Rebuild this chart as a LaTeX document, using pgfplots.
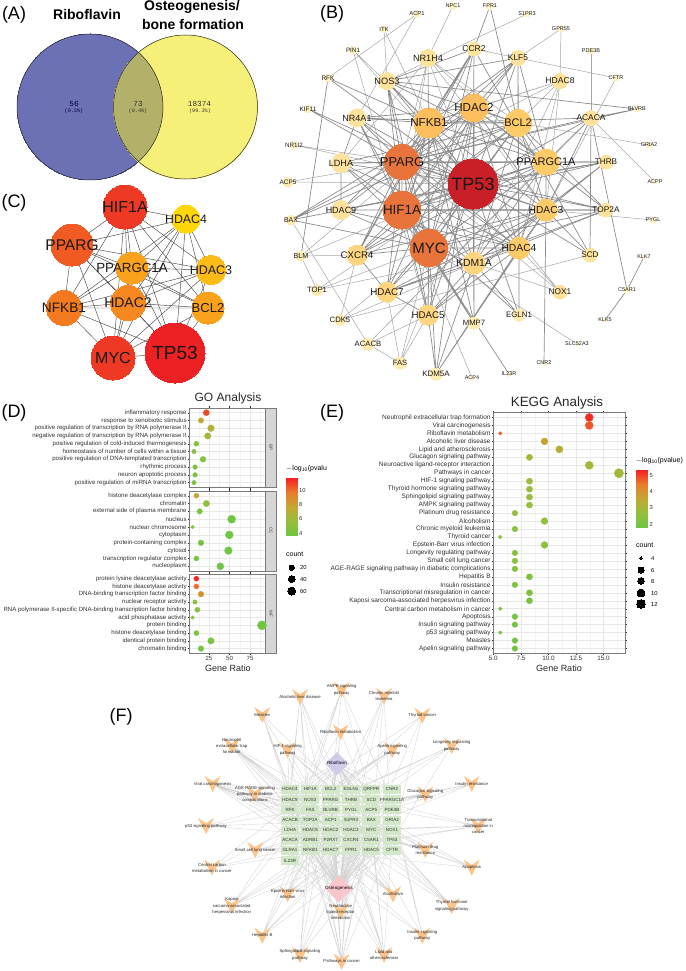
\documentclass[border=0pt]{standalone}
\usepackage{pgfplots}
\pgfplotsset{compat=1.18}
\usepackage{fontspec}
\setmainfont{Liberation Sans}
\newfontfamily\vennserif{Liberation Mono}
\newcommand\fs[1]{\fontsize{#1}{#1}\selectfont}
\definecolor{bA}{HTML}{C91F26}\definecolor{bB}{HTML}{E8743B}\definecolor{bC}{HTML}{FDBE5D}
\definecolor{bD}{HTML}{FFCB69}\definecolor{bE}{HTML}{FFD57F}\definecolor{bF}{HTML}{FFE29B}
\definecolor{bG}{HTML}{FFEBB0}\definecolor{bH}{HTML}{FFF3C6}
\definecolor{cA}{HTML}{ED2024}\definecolor{cB}{HTML}{EE3A24}\definecolor{cC}{HTML}{F15A22}
\definecolor{cD}{HTML}{F47A20}\definecolor{cE}{HTML}{F7871F}\definecolor{cF}{HTML}{FAA21B}
\definecolor{cG}{HTML}{FDBB16}\definecolor{cH}{HTML}{FFD60A}
\definecolor{vee}{HTML}{FCC48B}\definecolor{genebox}{HTML}{D3E8C8}
\definecolor{tick}{HTML}{303030}\definecolor{frame}{HTML}{7A7A7A}
\definecolor{vblue}{RGB}{108,112,181}\definecolor{vyel}{RGB}{247,240,120}\definecolor{volive}{RGB}{179,176,106}
\definecolor{dribo}{RGB}{208,205,235}\definecolor{dost}{RGB}{249,198,203}
\pgfdeclareplotmark{veeshape}{\pgfpathmoveto{\pgfqpoint{-1\pgfplotmarksize}{1\pgfplotmarksize}}
 \pgfpathlineto{\pgfqpoint{0pt}{0.35\pgfplotmarksize}}
 \pgfpathlineto{\pgfqpoint{1\pgfplotmarksize}{1\pgfplotmarksize}}
 \pgfpathlineto{\pgfqpoint{0pt}{-1\pgfplotmarksize}}\pgfpathclose\pgfusepathqfill}
\pgfplotsset{
 px/.style={at={(0,0)},anchor=south west,scale only axis,width=685pt,height=971pt,
   xmin=0,xmax=685,ymin=0,ymax=971,y dir=reverse,hide axis,clip=false},
 colormap={gr}{rgb255=(108,198,68) rgb255=(150,190,60) rgb255=(195,168,50) rgb255=(232,125,45) rgb255=(245,30,35)},
 dots/.style={scatter,only marks,mark=*,scatter src=explicit,
   scatter/use mapped color={draw=mapped color,fill=mapped color},
   visualization depends on={\thisrow{r}\as\rr},
   scatter/@pre marker code/.append style={/tikz/mark size=\rr}},
 gopanel/.style={scale only axis,width=76.4pt,anchor=north west,clip=false,
   xmin=1,xmax=94.1,ymin=0.4,ymax=10.6,y dir=reverse,
   xtick={25,50,75},minor xtick={12.5,37.5,62.5,87.5},ytick={1,...,10},
   grid=both,major grid style={draw=black!9,line width=.4pt},minor grid style={draw=black!5,line width=.25pt},
   axis line style={draw=frame,line width=.9pt},tick style={draw=tick,line width=.3pt},
   tick align=outside,major tick length=1.5pt,minor tick length=0pt,
   yticklabel style={font=\fs{6.1},text=tick,inner sep=1pt},
   xticklabel style={font=\fs{6},text=tick,inner sep=1.5pt},
   colormap name=gr,point meta min=3.6,point meta max=11.7,
   /pgf/number format/assume math mode=true},
 cbar/.style={scale only axis,anchor=south west,xmin=0,xmax=1,xtick=\empty,
   axis line style={draw=none},yticklabel pos=right,tick style={draw=none},
   yticklabel style={font=\fs{5.8},text=tick,inner sep=1pt,xshift=1pt},
   colormap name=gr,/pgf/number format/assume math mode=true},
 edgeA/.style={draw=black!45,line width=.7pt,line join=round,no markers,forget plot},
 edgeB/.style={draw=black!35,line width=.5pt,line join=round,no markers,forget plot},
 edgeC/.style={draw=black!72,line width=.45pt,line join=round,no markers,forget plot},
 edgeF/.style={draw=black!17,line width=.35pt,line join=round,no markers,forget plot},
 disc/.style 2 args={only marks,mark=*,mark size=#1pt,mark options={draw=#2,fill=#2,line width=0pt},forget plot},
}
% ---------- helpers: node positions come from the lists below
\newcommand\defpos[3]{\expandafter\gdef\csname P#1\endcsname{(#2,#3)}%
  \expandafter\gdef\csname X#1\endcsname{#2}\expandafter\gdef\csname Y#1\endcsname{#3}}
\newcommand\Hub[3]{\gdef\buf{}\foreach\q in {#3}{\xdef\buf{\buf\csname P\q\endcsname\csname P#2\endcsname}}%
  \edef\tmp{\noexpand\addplot[#1] coordinates {\csname P#2\endcsname\buf};}\tmp}
\newcommand\netmark[4]{\addplot[disc={#3}{#4}] coordinates {\csname P#1#2\endcsname};}
\newcommand\netlabel[3]{\node[font=\fs{#3},text=black!90,inner sep=0pt] at (axis cs:\csname X#1#2\endcsname,\csname Y#1#2\endcsname) {#2};}
% ---------- network B: name x y radius colour fontsize
\def\Bnodes{%
\do{TP53}{473}{184}{25}{bA}{18}\do{PPARG}{402}{162}{17.5}{bB}{12.9}\do{HIF1A}{402}{210}{19}{bB}{13.4}
\do{MYC}{429}{248}{18.5}{bB}{15}\do{HDAC2}{474}{108}{14}{bC}{11.6}\do{NFKB1}{429}{123}{15}{bC}{11.6}
\do{BCL2}{518}{123}{13.5}{bD}{11}\do{PPARGC1A}{546}{162}{13}{bD}{11}\do{HDAC3}{546}{210}{11}{bD}{10.2}
\do{HDAC4}{519}{248}{11}{bD}{10.3}\do{KDM1A}{474}{263}{11}{bE}{10.4}\do{HDAC5}{428}{315}{10}{bE}{9.7}
\do{HDAC7}{387}{292}{10}{bE}{9.8}\do{CXCR4}{357}{255}{10}{bE}{9.6}\do{HDAC9}{341}{210}{9.5}{bF}{9}
\do{LDHA}{341}{163}{9.5}{bF}{9.1}\do{NR4A1}{357}{118}{9}{bF}{9}\do{NOS3}{387}{81}{8.5}{bF}{9.2}
\do{NR1H4}{428}{58}{8.5}{bF}{9.1}\do{CCR2}{474}{49}{7}{bF}{8.5}\do{KLF5}{518}{58}{7.5}{bF}{8.4}
\do{HDAC8}{560}{81}{7.5}{bF}{8.6}\do{ACACA}{591}{118}{7.5}{bF}{8.4}\do{THRB}{606}{162}{7}{bF}{8.2}
\do{TOP2A}{606}{210}{7}{bF}{8.3}\do{SCD}{590}{255}{7}{bF}{8.2}\do{NOX1}{560}{292}{7}{bF}{8.3}
\do{EGLN1}{519}{315}{6}{bG}{7.9}\do{MMP7}{474}{323}{6}{bG}{7.7}\do{KDM5A}{436}{374}{6}{bG}{7.9}
\do{FAS}{400}{363}{6}{bG}{7.6}\do{ACACB}{368}{344}{6}{bG}{7.7}\do{CDK5}{340}{320}{5.5}{bG}{7.7}
\do{TOP1}{317}{290}{5.5}{bG}{7.7}\do{BLM}{301}{256}{5}{bG}{7.2}\do{BAX}{291}{220}{5}{bG}{7}
\do{ACP5}{288}{182}{5}{bG}{6.5}\do{NR1I2}{294}{145}{4}{bH}{6.3}\do{KIF11}{308}{109}{4}{bH}{6.5}
\do{RFK}{328}{78}{4}{bH}{6.5}\do{PIN1}{353}{50}{4}{bH}{6.3}\do{ITK}{384}{29}{3.5}{bH}{6}
\do{ACP1}{417}{14}{3.5}{bH}{5.8}\do{NPC1}{453}{6}{3.5}{bH}{5.5}\do{FPR1}{490}{6}{3.5}{bH}{5.5}
\do{S1PR3}{527}{14}{3}{bH}{5.5}\do{GPR55}{561}{29}{3}{bH}{5.5}\do{PDE3B}{591}{51}{3}{bH}{5.5}
\do{CFTR}{616}{78}{3}{bH}{5.5}\do{BLVRB}{637}{109}{3}{bH}{5.5}\do{GRIA2}{649}{145}{3}{bH}{5.5}
\do{ACPP}{655}{182}{2}{bH}{5.5}\do{PYGL}{653}{220}{3}{bH}{5.5}\do{KLK7}{644}{257}{2}{bH}{5.5}
\do{C5AR1}{627}{290}{3}{bH}{5.5}\do{KLK5}{605}{320}{2}{bH}{5.5}\do{SLC52A3}{577}{344}{2}{bH}{5.5}
\do{CNR2}{544}{363}{2}{bH}{5.5}\do{IL23R}{509}{374}{2}{bH}{5.5}\do{ACP4}{472}{378}{2}{bH}{5.5}}
% ---------- network C
\def\Cnodes{%
\do{HIF1A}{125}{207}{22}{cB}{16}\do{HDAC4}{186}{219}{14}{cH}{12.3}\do{PPARG}{72}{245}{21}{cC}{15.5}
\do{PPARGC1A}{132}{268}{16}{cF}{13.3}\do{HDAC3}{211}{270}{14.5}{cG}{12.5}\do{NFKB1}{64}{308}{17.5}{cD}{13.7}
\do{HDAC2}{128}{303}{17.5}{cE}{14}\do{BCL2}{208}{308}{16}{cF}{13}\do{MYC}{113}{358}{22}{cB}{16}
\do{TP53}{175}{353}{30}{cA}{19}}
% ---------- network F genes
\def\Fgenes{%
\do{HDAC4}{290}{789.3}\do{HIF1A}{310.3}{789.3}\do{BCL2}{330.7}{789.3}\do{EGLN1}{351}{789.3}\do{QRFPR}{371.3}{789.3}\do{CNR2}{392}{789.3}
\do{HDAC9}{290}{799.7}\do{NOS3}{310.3}{799.7}\do{PPARG}{330.7}{799.7}\do{THRB}{351}{799.7}\do{SCD}{371.3}{799.7}\do{PPARGC1A}{392}{799.7}
\do{RFK}{290}{809.7}\do{FAS}{310.3}{809.7}\do{BLVRB}{330.7}{809.7}\do{PYGL}{351}{809.7}\do{ACP5}{371.3}{809.7}\do{PDE3B}{392}{809.7}
\do{ACACB}{290}{820}\do{TOP2A}{310.3}{820}\do{ACP1}{330.7}{820}\do{S1PR3}{351}{820}\do{BAX}{371.3}{820}\do{GRIA2}{392}{820}
\do{LDHA}{290}{830}\do{HDAC8}{310.3}{830}\do{HDAC2}{330.7}{830}\do{HDAC3}{351}{830}\do{MYC}{371.3}{830}\do{NOX1}{392}{830}
\do{ACACA}{290}{840.3}\do{ADRB1}{310.3}{840.3}\do{P2RX7}{330.7}{840.3}\do{CXCR4}{351}{840.3}\do{C5AR1}{371.3}{840.3}\do{TP53}{392}{840.3}
\do{GLRA1}{290}{850.3}\do{NFKB1}{310.3}{850.3}\do{HDAC7}{330.7}{850.3}\do{FPR1}{351}{850.3}\do{HDAC5}{371.3}{850.3}\do{CFTR}{392}{850.3}
\do{IL23R}{290}{860.7}}
\newcommand\allF{HDAC4,HIF1A,BCL2,EGLN1,QRFPR,CNR2,HDAC9,NOS3,PPARG,THRB,SCD,PPARGC1A,RFK,FAS,BLVRB,PYGL,ACP5,PDE3B,ACACB,TOP2A,ACP1,S1PR3,BAX,GRIA2,LDHA,HDAC8,HDAC2,HDAC3,MYC,NOX1,ACACA,ADRB1,P2RX7,CXCR4,C5AR1,TP53,GLRA1,NFKB1,HDAC7,FPR1,HDAC5,CFTR,IL23R}
% ---------- pathways F: id x y label genes
\def\Ftargets{%
\do{a}{262.3}{715}{Measles}{HDAC4,HDAC9,HDAC2,TP53,NFKB1}
\do{b}{300}{697}{Alcoholic liver disease}{HDAC4,HDAC9,HDAC2,HDAC3,FAS,NFKB1,HDAC5}
\do{c}{341.7}{690}{AMPK signaling\\pathway}{HIF1A,PPARG,PPARGC1A,SCD,ACACA,ACACB}
\do{d}{384}{696}{Chronic myeloid\\leukemia}{HDAC2,HDAC3,MYC,TP53,NFKB1}
\do{e}{422.3}{715.7}{Thyroid cancer}{TP53,PPARG,MYC,HIF1A}
\do{f}{231.7}{746}{Neutrophil\\extracellular trap\\formation}{HDAC4,HDAC9,HDAC2,HDAC3,HDAC5,HDAC7,HDAC8,HIF1A,NFKB1,CXCR4}
\do{g}{287.7}{750}{HIF-1 signaling\\pathway}{HIF1A,EGLN1,BCL2,TP53,NFKB1,LDHA}
\do{h}{340.7}{732.3}{Riboflavin metabolism}{RFK,ACP1,ACP5,BLVRB}
\do{i}{392.3}{750}{Apelin signaling\\pathway}{NOS3,ACACB,ACACA,MYC,BCL2}
\do{j}{451.7}{746}{Longevity regulating\\pathway}{ACACA,ACACB,PPARG,TP53,NFKB1}
\do{k}{212.7}{784}{Viral carcinogenesis}{HDAC4,HDAC9,HDAC2,HDAC3,HDAC5,HDAC7,HDAC8,MYC,TP53,NFKB1}
\do{l}{255}{794.3}{AGE-RAGE signaling\\pathway in diabetic\\complications}{BAX,BCL2,FAS,NFKB1,NOX1}
\do{m}{425.3}{794.3}{Glucagon signaling\\pathway}{ACACA,ACACB,LDHA,PPARGC1A,PYGL}
\do{n}{471.7}{784}{Insulin resistance}{ACACA,ACACB,NFKB1,PPARGC1A,PYGL}
\do{o}{206}{826}{p53 signaling pathway}{BAX,BCL2,TP53,FAS}
\do{p}{478.3}{826}{Transcriptional\\misregulation in\\cancer}{HDAC2,MYC,TP53,BCL2,NFKB1,PPARG}
\do{q}{255.3}{850}{Small cell lung cancer}{BCL2,MYC,TP53,NFKB1,BAX}
\do{r}{425.3}{850}{Platinum drug\\resistance}{BAX,BCL2,TP53,TOP2A,FAS}
\do{s}{212}{867.7}{Central carbon\\metabolism in cancer}{HIF1A,MYC,TP53,LDHA}
\do{t}{471.7}{867.7}{Apoptosis}{BAX,BCL2,FAS,TP53,NFKB1}
\do{u}{287.7}{894.3}{Epstein-Barr virus\\infection}{HDAC2,BAX,BCL2,FAS,MYC,TP53,NFKB1}
\do{v}{393}{894.3}{Alcoholism}{HDAC2,HDAC3,HDAC4,HDAC5,HDAC7,HDAC8,HDAC9}
\do{w}{231.7}{906}{Kaposi\\sarcoma-associated\\herpesvirus infection}{BAX,FAS,MYC,TP53,NFKB1,HIF1A}
\do{x}{340.7}{911.7}{Neuroactive\\ligand-receptor\\interaction}{S1PR3,ADRB1,CNR2,FPR1,GRIA2,GLRA1,P2RX7,C5AR1,QRFPR,IL23R}
\do{y}{451.7}{906}{Thyroid hormone\\signaling pathway}{HDAC2,HDAC3,HIF1A,MYC,TP53,THRB}
\do{z}{262.3}{935.7}{Hepatitis B}{BAX,BCL2,MYC,TP53,NFKB1,FAS}
\do{A}{422.3}{935.7}{Insulin signaling\\pathway}{ACACA,ACACB,PDE3B,PYGL,PPARGC1A}
\do{B}{300}{955}{Sphingolipid signaling\\pathway}{BAX,BCL2,S1PR3,TP53,NFKB1,FAS}
\do{C}{384}{955}{Lipid and\\atherosclerosis}{BAX,BCL2,FAS,TP53,NFKB1,CXCR4,PPARG,MYC}
\do{D}{341.7}{961.7}{Pathways in cancer}{BAX,BCL2,FAS,HDAC2,MYC,TP53,NFKB1,HIF1A,PPARG,CXCR4,EGLN1,HDAC4}}
\begin{document}
\begin{tikzpicture}
\path[use as bounding box] (0,0) rectangle (685pt,971pt);
% ===== layer 1: Venn fills
\begin{axis}[px]
\addplot[disc={73}{vblue}] coordinates {(90,107)};
\addplot[disc={72}{vyel}] coordinates {(185.5,107)};
\end{axis}
% ===== layer 2: overlap
\begin{axis}[px]
\fill[volive] (axis cs:138.5,52.4) arc[start angle=48.4,end angle=-48.4,radius=73pt] arc[start angle=229.3,end angle=130.7,radius=72pt] -- cycle;
\end{axis}
% ===== layer 3: outlines, networks, legend dots
\begin{axis}[px]
\addplot[only marks,mark=o,mark size=73pt,mark options={draw=black!85,line width=.5pt},forget plot] coordinates {(90,107)};
\addplot[only marks,mark=o,mark size=72pt,mark options={draw=black!85,line width=.5pt},forget plot] coordinates {(185.5,107)};
% network B
\def\do#1#2#3#4#5#6{\defpos{b#1}{#2}{#3}}\Bnodes
\def\bl#1{\foreach\qq[count=\i] in {#1}{\ifnum\i=1 \xdef\bufl{b\qq}\else\xdef\bufl{\bufl,b\qq}\fi}}
\newcommand\HubB[3]{\bl{#3}\edef\ll{\bufl}\expandafter\HubBx\expandafter{\ll}{#1}{#2}}
\newcommand\HubBx[3]{\Hub{#2}{b#3}{#1}}
\HubB{edgeB}{ITK}{NOS3,NFKB1}
\HubB{edgeB}{ACP1}{RFK,NR4A1}
\HubB{edgeB}{NPC1}{NR1H4}
\HubB{edgeA}{FPR1}{CCR2,BCL2}
\HubB{edgeB}{S1PR3}{NOS3}
\HubB{edgeB}{GPR55}{HDAC8,KLF5}
\HubB{edgeB}{PDE3B}{ACACA}
\HubB{edgeB}{CFTR}{HDAC3,CCR2}
\HubB{edgeA}{BLVRB}{NOS3,PPARG,ACACA}
\HubB{edgeB}{GRIA2}{BCL2}
\HubB{edgeB}{ACPP}{ACACA}
\HubB{edgeB}{PYGL}{HDAC3}
\HubB{edgeA}{C5AR1}{KLK7,KLK5,ACACA}
\HubB{edgeB}{SLC52A3}{MYC}
\HubB{edgeA}{CNR2}{HDAC3}
\HubB{edgeA}{IL23R}{HIF1A}
\HubB{edgeB}{ACP4}{HIF1A}
\HubB{edgeA}{KDM5A}{HDAC2,HDAC3,HDAC4,HDAC5,MYC,KDM1A}
\HubB{edgeB}{PIN1}{TP53,NFKB1,HDAC5}
\HubB{edgeA}{RFK}{BLM,TP53,NFKB1}
\HubB{edgeA}{KIF11}{TP53,PPARG}
\HubB{edgeB}{NR1I2}{PPARG,TP53}
\HubB{edgeB}{TOP1}{TP53,MYC,HDAC4,BLM}
\HubB{edgeB}{FAS}{TP53,MYC,HDAC5,HDAC7,ACACB}
\HubB{edgeB}{ACACB}{ACACA,PPARGC1A,HDAC5,BAX}
\HubB{edgeB}{CDK5}{CXCR4,MYC,KDM1A,SCD}
\HubB{edgeB}{BLM}{HDAC2,TP53,CXCR4}
\HubB{edgeA}{EGLN1}{HIF1A,TP53,KDM1A,HDAC4}
\HubB{edgeB}{NOX1}{HDAC4,PPARG,KDM1A,TP53}
\HubB{edgeA}{SCD}{ACACA,HDAC3,CCR2,TP53}
\HubB{edgeB}{ACP5}{PPARG,TP53}
\HubB{edgeA}{BAX}{BCL2,TP53,MYC,PPARG,HDAC2}
\HubB{edgeB}{HDAC8}{HDAC2,HDAC3,HDAC4,BCL2,KDM1A,NFKB1,PPARG}
\HubB{edgeA}{ACACA}{TP53,PPARG,PPARGC1A,NFKB1,HDAC3}
\HubB{edgeA}{KLF5}{TP53,BCL2,HDAC2,NFKB1,HIF1A,HDAC4,PPARGC1A,PPARG,NOS3}
\HubB{edgeA}{CCR2}{MYC,HIF1A,NFKB1,TP53,PPARG,NOS3,CXCR4}
\HubB{edgeB}{NR1H4}{TP53,NFKB1,HIF1A,PPARG,PPARGC1A,BCL2,HDAC3,MYC,LDHA}
\HubB{edgeA}{NOS3}{TP53,PPARG,HIF1A,NFKB1,BCL2,MYC,PPARGC1A}
\HubB{edgeA}{NR4A1}{TP53,HDAC2,NFKB1,PPARG,HIF1A,MYC,BCL2,HDAC4,LDHA}
\HubB{edgeA}{LDHA}{TP53,HIF1A,MYC,PPARG,HDAC9,BCL2,HDAC4,THRB}
\HubB{edgeA}{HDAC9}{TP53,HDAC2,HDAC3,HDAC4,MYC,HIF1A,NFKB1,TOP2A,THRB}
\HubB{edgeA}{CXCR4}{TP53,HIF1A,MYC,NFKB1,HDAC3,BCL2,PPARG,HDAC7,PPARGC1A}
\HubB{edgeA}{HDAC7}{TP53,MYC,HDAC2,HDAC3,HDAC4,HDAC5,NFKB1,PPARG,TOP2A}
\HubB{edgeA}{HDAC5}{TP53,MYC,HDAC2,HDAC3,HDAC4,NFKB1,KDM1A,PPARG,HIF1A}
\HubB{edgeA}{MMP7}{TP53,MYC,NFKB1,HIF1A,KDM1A}
\HubB{edgeA}{THRB}{TP53,PPARG,HDAC3,KDM1A,HIF1A}
\HubB{edgeA}{TOP2A}{TP53,MYC,HIF1A,PPARG,HDAC2,BCL2,KDM1A}
\HubB{edgeA}{KDM1A}{TP53,MYC,HIF1A,HDAC2,HDAC3,NFKB1,PPARGC1A,BCL2,PPARG}
\HubB{edgeA}{HDAC4}{TP53,MYC,HIF1A,PPARG,HDAC2,HDAC3,NFKB1,BCL2,PPARGC1A}
\HubB{edgeA}{HDAC3}{TP53,MYC,HIF1A,PPARG,HDAC2,NFKB1,BCL2,PPARGC1A}
\HubB{edgeA}{PPARGC1A}{TP53,MYC,HIF1A,PPARG,HDAC2,NFKB1,BCL2}
\HubB{edgeA}{BCL2}{TP53,MYC,HIF1A,PPARG,HDAC2,NFKB1}
\HubB{edgeA}{NFKB1}{TP53,MYC,HIF1A,PPARG,HDAC2}
\HubB{edgeA}{HDAC2}{TP53,MYC,HIF1A,PPARG}
\HubB{edgeA}{MYC}{TP53,HIF1A,PPARG}
\HubB{edgeA}{PPARG}{TP53,HIF1A}
\HubB{edgeA}{HIF1A}{TP53}
\def\do#1#2#3#4#5#6{\netmark{b}{#1}{#4}{#5}}\Bnodes
% network C
\def\do#1#2#3#4#5#6{\defpos{c#1}{#2}{#3}}\Cnodes
\newcommand\HubC[3]{\foreach\qq[count=\i] in {#3}{\ifnum\i=1 \xdef\bufl{c\qq}\else\xdef\bufl{\bufl,c\qq}\fi}\edef\ll{\bufl}\expandafter\HubBy\expandafter{\ll}{#1}{#2}}
\newcommand\HubBy[3]{\Hub{#2}{c#3}{#1}}
\HubC{edgeC}{TP53}{HIF1A,HDAC4,PPARG,PPARGC1A,HDAC3,NFKB1,HDAC2,BCL2,MYC}
\HubC{edgeC}{MYC}{HIF1A,HDAC4,PPARG,PPARGC1A,HDAC3,NFKB1,HDAC2,BCL2}
\HubC{edgeC}{HIF1A}{HDAC4,PPARG,PPARGC1A,HDAC3,NFKB1,HDAC2,BCL2}
\HubC{edgeC}{PPARG}{HDAC4,PPARGC1A,HDAC3,NFKB1,HDAC2,BCL2}
\HubC{edgeC}{HDAC2}{HDAC4,PPARGC1A,HDAC3,NFKB1,BCL2}
\HubC{edgeC}{NFKB1}{HDAC4,PPARGC1A,HDAC3,BCL2}
\HubC{edgeC}{PPARGC1A}{HDAC4,HDAC3,BCL2}
\HubC{edgeC}{HDAC4}{HDAC3,BCL2}
\def\do#1#2#3#4#5#6{\netmark{c}{#1}{#4}{#5}}\Cnodes
% network F
\def\do#1#2#3{\defpos{#1}{#2}{#3}}\Fgenes
\defpos{Ribo}{337}{763.3}\defpos{Osteo}{339}{888.3}
\def\do#1#2#3#4#5{\defpos{T#1}{#2}{#3}\Hub{edgeF}{T#1}{#5}}\Ftargets
\edef\tmpb{\noexpand\Hub{edgeF}{Osteo}{\allF}}\tmpb
\Hub{edgeF}{Ribo}{HDAC4,HIF1A,BCL2,EGLN1,QRFPR,CNR2,HDAC9,NOS3,PPARG,THRB,RFK,FAS,BLVRB,PYGL,ACP5,PDE3B,ACP1,S1PR3,BAX,GRIA2,MYC,TP53,CFTR}
\def\do#1#2#3{\addplot[only marks,mark=square*,mark size=4pt,mark options={xscale=2.1,draw=genebox,fill=genebox,line width=0pt},forget plot] coordinates {(#2,#3)};}\Fgenes
\addplot[only marks,mark=diamond*,mark size=11.3pt,mark options={xscale=1.33,draw=dribo,fill=dribo,line width=0pt},forget plot] coordinates {(337,763.3)};
\addplot[only marks,mark=diamond*,mark size=13pt,mark options={xscale=1.33,draw=dost,fill=dost,line width=0pt},forget plot] coordinates {(339,888.3)};
\def\do#1#2#3#4#5{\addplot[only marks,mark=veeshape,mark size=8pt,mark options={fill=vee},forget plot] coordinates {(#2,#3)};}\Ftargets
% legend dots
\addplot[disc={2.7}{black}] coordinates {(291.7,567.7)};
\addplot[disc={3.4}{black}] coordinates {(291.7,579)};
\addplot[disc={4}{black}] coordinates {(291.7,591)};
\addplot[disc={1.3}{black}] coordinates {(641,558)};
\addplot[disc={3}{black}] coordinates {(641,570)};
\addplot[disc={3.4}{black}] coordinates {(641,581)};
\addplot[disc={3.9}{black}] coordinates {(641,593)};
\addplot[disc={4.4}{black}] coordinates {(641,604)};
\end{axis}
% ===== layer 4: all text
\begin{axis}[px]
\node[font=\fs{14}\bfseries] at (axis cs:87,14) {Riboflavin};
\node[font=\fs{14}\bfseries] at (axis cs:192,7) {Osteogenesis/};
\node[font=\fs{14}\bfseries] at (axis cs:193,24) {bone formation};
\node[font=\vennserif\fs{7.7},text=black!75!blue] at (axis cs:74,104) {56};
\node[font=\vennserif\fs{5.2},text=black!75!blue] at (axis cs:74,111) {(0.3\%)};
\node[font=\vennserif\fs{7.7},text=black!80] at (axis cs:138,104) {73};
\node[font=\vennserif\fs{5.2},text=black!80] at (axis cs:138,111) {(0.4\%)};
\node[font=\vennserif\fs{7.7},text=black!80] at (axis cs:199.5,104) {18374};
\node[font=\vennserif\fs{5.2},text=black!80] at (axis cs:200,111) {(99.3\%)};
\node[font=\fs{18}] at (axis cs:14,15) {(A)};
\node[font=\fs{18}] at (axis cs:332,14) {(B)};
\node[font=\fs{18}] at (axis cs:14,203) {(C)};
\node[font=\fs{18}] at (axis cs:14,412.5) {(D)};
\node[font=\fs{18}] at (axis cs:332,412.5) {(E)};
\node[font=\fs{18}] at (axis cs:121,717) {(F)};
\def\do#1#2#3#4#5#6{\netlabel{b}{#1}{#6}}\Bnodes
\def\do#1#2#3#4#5#6{\netlabel{c}{#1}{#6}}\Cnodes
\def\do#1#2#3{\node[font=\fs{4.5},text=black!80,inner sep=0pt] at (axis cs:#2,#3) {#1};}\Fgenes
\node[font=\fs{4.5}] at (axis cs:337,763.3) {Riboflavin};
\node[font=\fs{4.5}] at (axis cs:339,888.3) {Osteogenesis};
\def\do#1#2#3#4#5{\node[font=\fontsize{4.2}{6.2}\selectfont,align=center,text=black!85,inner sep=0pt] at (axis cs:#2,#3) {#4};}\Ftargets
\node[font=\fs{12},text=black!85] at (axis cs:228,398) {GO Analysis};
\node[font=\fs{9},text=black!85] at (axis cs:228,668) {Gene Ratio};
\node[font=\fs{7},anchor=west,inner sep=0pt] at (axis cs:286,469) {$-$log\textsubscript{10}(pvalu};
\node[font=\fs{7},anchor=west,inner sep=0pt] at (axis cs:286,554) {count};
\node[font=\fs{5.8},anchor=west,inner sep=0pt] at (axis cs:300,567.7) {20};
\node[font=\fs{5.8},anchor=west,inner sep=0pt] at (axis cs:300,579) {40};
\node[font=\fs{5.8},anchor=west,inner sep=0pt] at (axis cs:300,591) {60};
\node[font=\fs{13.4},text=black!85] at (axis cs:557,403) {KEGG Analysis};
\node[font=\fs{9},text=black!85] at (axis cs:559,668) {Gene Ratio};
\node[font=\fs{7},anchor=west,inner sep=0pt] at (axis cs:635.7,460.7) {$-$log\textsubscript{10}(pvalue)};
\node[font=\fs{7},anchor=west,inner sep=0pt] at (axis cs:636,545) {count};
\node[font=\fs{5.8},anchor=west,inner sep=0pt] at (axis cs:651,558) {4};
\node[font=\fs{5.8},anchor=west,inner sep=0pt] at (axis cs:651,570) {6};
\node[font=\fs{5.8},anchor=west,inner sep=0pt] at (axis cs:651,581) {8};
\node[font=\fs{5.8},anchor=west,inner sep=0pt] at (axis cs:651,593) {10};
\node[font=\fs{5.8},anchor=west,inner sep=0pt] at (axis cs:651,604) {12};
\end{axis}
% ===== GO panels
\begin{axis}[gopanel,at={(189.3pt,563pt)},height=79.3pt,xticklabels={},
 yticklabels={inflammatory response,response to xenobiotic stimulus,positive regulation of transcription by RNA polymerase II,negative regulation of transcription by RNA polymerase II,positive regulation of cold{-}induced thermogenesis,homeostasis of number of cells within a tissue,positive regulation of DNA{-}templated transcription,rhythmic process,neuron apoptotic process,positive regulation of miRNA transcription}]
\addplot[dots] table[x=x,y=y,meta=c]{
x y c r
21.7 1 10.8 3
15.2 2 7.5 2.7
27.4 3 7 3.3
23.4 4 6.5 3.2
9.6 5 5 2.5
6.7 6 4.7 2.2
17.7 7 4.7 2.9
8 8 4.5 2.3
8 9 4.5 2.3
6.7 10 4.5 2.2
};
\draw[draw=frame,line width=.7pt,fill=black!16] (rel axis cs:1,0) rectangle ([xshift=10.3pt]rel axis cs:1,1);
\node[font=\fs{4.5},rotate=-90,text=black!75] at ([xshift=5.15pt]rel axis cs:1,0.5) {BP};
\end{axis}
\begin{axis}[gopanel,at={(189.3pt,480pt)},height=80pt,xticklabels={},
 yticklabels={histone deacetylase complex,chromatin,external side of plasma membrane,nucleus,nuclear chromosome,cytoplasm,protein{-}containing complex,cytosol,transcription regulator complex,nucleoplasm}]
\addplot[dots] table[x=x,y=y,meta=c]{
x y c r
9.6 1 7.7 2.5
21.7 2 5 3.1
13.6 3 4.3 2.7
52.6 4 3.8 4
5 5 4 1.8
49.8 6 3.7 3.9
15.2 7 4 2.8
48.6 8 3.7 3.8
9.6 9 4 2.5
38.8 10 3.7 3.5
};
\draw[draw=frame,line width=.7pt,fill=black!16] (rel axis cs:1,0) rectangle ([xshift=10.3pt]rel axis cs:1,1);
\node[font=\fs{4.5},rotate=-90,text=black!75] at ([xshift=5.15pt]rel axis cs:1,0.5) {CC};
\end{axis}
\begin{axis}[gopanel,at={(189.3pt,397pt)},height=79.3pt,
 yticklabels={protein lysine deacetylase activity,histone deacetylase activity,DNA{-}binding transcription factor binding,nuclear receptor activity,RNA polymerase II{-}specific DNA{-}binding transcription factor binding,acid phosphatase activity,protein binding,histone deacetylase binding,identical protein binding,chromatin binding}]
\addplot[dots] table[x=x,y=y,meta=c]{
x y c r
9.6 1 11.5 2.5
9.6 2 10 2.5
15.2 3 8.8 2.8
8 4 5.2 2.2
10.8 5 4.8 2.5
5 6 4.7 1.8
89.6 7 3.9 4.5
9.6 8 4.4 2.5
27.4 9 4.4 3.2
15.2 10 4 2.8
};
\draw[draw=frame,line width=.7pt,fill=black!16] (rel axis cs:1,0) rectangle ([xshift=10.3pt]rel axis cs:1,1);
\node[font=\fs{4.5},rotate=-90,text=black!75] at ([xshift=5.15pt]rel axis cs:1,0.5) {MF};
\end{axis}
% ===== KEGG panel
\begin{axis}[gopanel,at={(493.3pt,558.3pt)},width=131.7pt,height=240.6pt,
 xmin=5,xmax=16.94,ymin=0.4,ymax=30.6,xtick={5,7.5,10,12.5,15},minor xtick={6.25,8.75,11.25,13.75,16.25},
 yticklabel style={font=\fs{6.5}},xticklabel style={font=\fs{6.3}},
 xticklabels={5.0,7.5,10.0,12.5,15.0},ytick={1,...,30},point meta min=1.8,point meta max=5.33,
 yticklabels={Neutrophil extracellular trap formation,Viral carcinogenesis,Riboflavin metabolism,Alcoholic liver disease,Lipid and atherosclerosis,Glucagon signaling pathway,Neuroactive ligand{-}receptor interaction,Pathways in cancer,HIF{-}1 signaling pathway,Thyroid hormone signaling pathway,Sphingolipid signaling pathway,AMPK signaling pathway,Platinum drug resistance,Alcoholism,Chronic myeloid leukemia,Thyroid cancer,Epstein{-}Barr virus infection,Longevity regulating pathway,Small cell lung cancer,AGE{-}RAGE signaling pathway in diabetic complications,Hepatitis B,Insulin resistance,Transcriptional misregulation in cancer,Kaposi sarcoma{-}associated herpesvirus infection,Central carbon metabolism in cancer,Apoptosis,Insulin signaling pathway,p53 signaling pathway,Measles,Apelin signaling pathway}]
\addplot[dots] table[x=x,y=y,meta=c]{
x y c r
13.7 1 5.2 4
13.7 2 4.8 4
5.63 3 4.7 1.8
9.64 4 3.7 3.4
10.99 5 3.35 3.6
8.28 6 3 3.1
13.7 7 2.9 4
16.39 8 2.85 4.6
8.28 9 2.75 3.1
8.28 10 2.7 3.1
8.28 11 2.7 3.1
8.28 12 2.7 3.1
6.96 13 2.6 2.8
9.64 14 2.6 3.4
6.96 15 2.5 2.8
5.63 16 2.5 1.8
9.64 17 2.45 3.4
6.96 18 2.4 2.8
6.96 19 2.35 2.8
6.96 20 2.3 2.8
8.28 21 2.25 3.1
6.96 22 2.2 2.8
8.28 23 2.15 3.1
8.28 24 2.1 3.1
5.63 25 2.1 1.8
6.96 26 2.05 2.8
6.96 27 2 2.8
5.63 28 2 1.8
6.96 29 1.9 2.8
6.96 30 1.9 2.8
};
\end{axis}
% ===== colour bars
\begin{axis}[cbar,at={(286pt,435pt)},width=11pt,height=58pt,ymin=3.6,ymax=11.7,ytick={4,6,8,10}]
\addplot[surf,shader=interp,point meta=y,mesh/rows=2,mesh/cols=2] coordinates {(0,3.6)(1,3.6)(0,11.7)(1,11.7)};
\end{axis}
\begin{axis}[cbar,at={(635.7pt,443.7pt)},width=11.6pt,height=57.3pt,ymin=1.8,ymax=5.33,ytick={2,3,4,5}]
\addplot[surf,shader=interp,point meta=y,mesh/rows=2,mesh/cols=2] coordinates {(0,1.8)(1,1.8)(0,5.33)(1,5.33)};
\end{axis}
\end{tikzpicture}
\end{document}
